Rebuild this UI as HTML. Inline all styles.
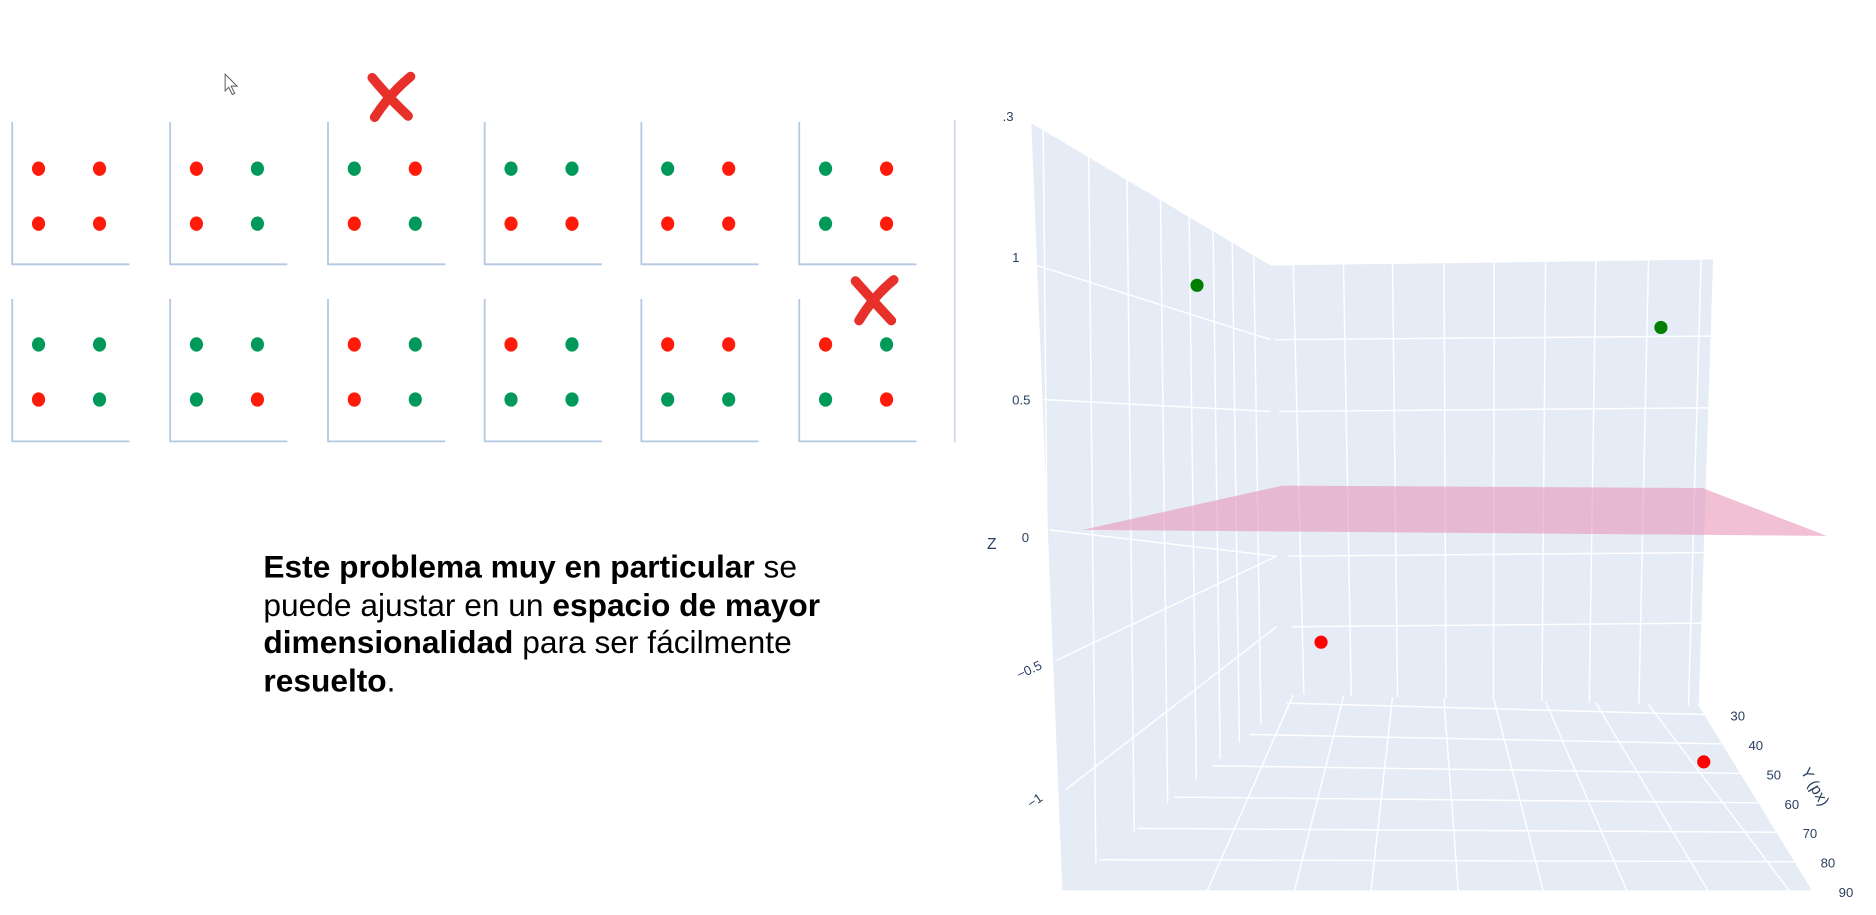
<!DOCTYPE html>
<html><head><meta charset="utf-8"><style>
html,body{margin:0;padding:0;background:#fff;width:1876px;height:915px;overflow:hidden}
svg{display:block}
text{font-family:"Liberation Sans",sans-serif}
</style></head><body>
<svg id="root" width="1876" height="915" viewBox="0 0 1568 765" xmlns="http://www.w3.org/2000/svg">
<g id="panels"></g>
<g stroke="#e8302a" stroke-width="8" stroke-linecap="round" fill="none">
 <path d="M311 65 Q325 82 341 97"/><path d="M343 64 Q326 78 313 98"/>
</g>
<g stroke="#e8302a" stroke-width="8" stroke-linecap="round" fill="none">
 <path d="M715 235 Q730 252 745 268"/><path d="M747 234 Q730 248 718 268"/>
</g>
<path d="M188 62 L188 76 L191 73 L194 79 L196 78 L193 72 L198 72 Z" fill="#fff" stroke="#555" stroke-width="0.8"/>
<text font-size="26.5" fill="#000">
 <tspan x="220" y="483"><tspan font-weight="bold">Este problema muy en particular</tspan> se</tspan>
 <tspan x="220" y="515">puede ajustar en un <tspan font-weight="bold">espacio de mayor</tspan></tspan>
 <tspan x="220" y="546"><tspan font-weight="bold">dimensionalidad</tspan> para ser fácilmente</tspan>
 <tspan x="220" y="578"><tspan font-weight="bold">resuelto</tspan>.</tspan>
</text>
<g id="scene">
 <polygon points="862,103 1062,222 1085,580 888,745" fill="#e5ecf6"/>
 <polygon points="1062,222 1432,217 1420,590 1085,580" fill="#e5ecf6"/>
 <polygon points="1085,580 1420,590 1515,745 888,745" fill="#e5ecf6"/>
 <g id="grid" stroke="#fff" stroke-width="1.2" fill="none"></g>
 <polygon points="905,443 1072,406 1423,408 1527,448" fill="rgba(232,150,185,0.6)"/>
 <g id="points"></g>
 <g font-size="11" fill="#2a3f5f">
  <text x="838" y="101">.3</text>
  <text x="846" y="219">1</text>
  <text x="846" y="338">0.5</text>
  <text x="854" y="453">0</text>
  <text x="852" y="568" transform="rotate(-25 852 568)">−0.5</text>
  <text x="862" y="676" transform="rotate(-35 862 676)">−1</text>
  <text x="825" y="459" font-size="13">Z</text>
  <text x="1505" y="645" font-size="13" transform="rotate(60 1505 645)">Y (px)</text>
 </g>
 <g id="yticks" font-size="11" fill="#2a3f5f"></g>
</g>
</svg>
<script>
const NS="http://www.w3.org/2000/svg";
// XOR panels: colors of TL, TR, BL, BR
const topRow=[["r","r","r","r"],["r","g","r","g"],["g","r","r","g"],["g","g","r","r"],["g","r","r","r"],["g","r","g","r"]];
const bottomRow=[["g","g","r","g"],["g","g","g","r"],["r","g","r","g"],["r","g","g","g"],["r","r","g","g"],["r","g","g","r"]];
// 3D scatter data
const ptX=[-0.125,0.87,0.138,0.886];
const ptYpx=[33,30,33,49];
const ptZ=[1.0,0.845,-0.40,-0.675];
const ptClass=["g","g","r","r"];
const yTicks=[30,40,50,60,70,80,90];
const zTicks=[-1,-0.5,0,0.5,1];

function mk(tag,attrs,parent){const e=document.createElementNS(NS,tag);for(const k in attrs)e.setAttribute(k,attrs[k]);parent.appendChild(e);return e;}
const panels=document.getElementById('panels');
const boxX=[10,142,274,405,536,668];
function drawRow(row,top,dy){
 row.forEach((c,i)=>{
  const x=boxX[i];
  const ax=mk('path',{d:`M${x} ${top} L${x} ${top+119} L${x+98} ${top+119}`,stroke:'#b3c8e3','stroke-width':1.5,fill:'none'},panels);
  
  
  const pos=[[22,dy[0]],[73,dy[0]],[22,dy[1]],[73,dy[1]]];
  c.forEach((col,j)=>{
   const d=mk('ellipse',{cx:x+pos[j][0],cy:pos[j][1],rx:5.5,ry:6,fill:col==='r'?'#ff1a0a':'#00995a'},panels);
   
   
  });
 });
}
drawRow(topRow,102,[141,187]);
drawRow(bottomRow,250,[288,334]);
mk('line',{x1:798,y1:100,x2:798,y2:370,stroke:'#d0dcec','stroke-width':1.5},panels);

// projection
function tOf(y){return (y-27)/63;}
function project(x,y,z){const t=tOf(y);const s=1+0.69*t;return [1247+(x-0.5)*370*s,445-z*200*s+70*t];}
const grid=document.getElementById('grid');
function lerp(a,b,t){return [a[0]+(b[0]-a[0])*t,a[1]+(b[1]-a[1])*t];}
function line(p,q){mk('line',{x1:p[0],y1:p[1],x2:q[0],y2:q[1]},grid);}
// back wall verticals
const bx=[1081,1123,1164,1207,1249,1292,1334,1378,1422];
const fx=[1009,1082,1146,1219,1290,1360,1428,1496];
bx.forEach(x=>{const tt=(x-1062)/370;line([x,222-5*tt],[x-(x-1062)*0.03+20*(1-tt)*0.5,580+10*tt]);});
// back wall horizontals
[284,344,465,524].forEach(y=>line([1062+ (y-222)*0.06,y],[1432-(y-217)*0.032,y-3]));
// left wall horizontals
[[[867,222],[1062,284]],[[872,334],[1062,344]],[[877,443],[1067,465]],[[883,552],[1067,465]],[[891,660],[1067,524]]].forEach(l=>line(l[0],l[1]));
// left wall verticals (near vertical)
[0.05,0.24,0.4,0.54,0.66,0.76,0.84,0.93].forEach(t=>{const p=lerp([862,103],[1062,222],t);const bxv=p[0]+14-8;const byv=745-(bxv-888)*(165/197);line(p,[bxv,byv]);});
// floor fan lines
bx.slice(0,8).forEach((x,i)=>line([x,581+9*(x-1085)/335],[fx[i],745]));
// floor horizontals from y ticks
yTicks.forEach(v=>{const t=tOf(v);line(lerp([1085,580],[888,745],t),lerp([1420,590],[1515,745],t));});
// y tick labels
const yt=document.getElementById('yticks');
yTicks.forEach(v=>{const t=tOf(v);const p=lerp([1420,590],[1515,745],t);const e=mk('text',{x:p[0]+22,y:p[1]+5},yt);e.textContent=v;
 
 });
// points
const pg=document.getElementById('points');
ptX.forEach((x,i)=>{const p=project(x,ptYpx[i],ptZ[i]);const c=mk('circle',{cx:p[0],cy:p[1],r:5.5,fill:ptClass[i]==='g'?'#007f00':'#ff0000'},pg);
 
 });
</script>
</body></html>
